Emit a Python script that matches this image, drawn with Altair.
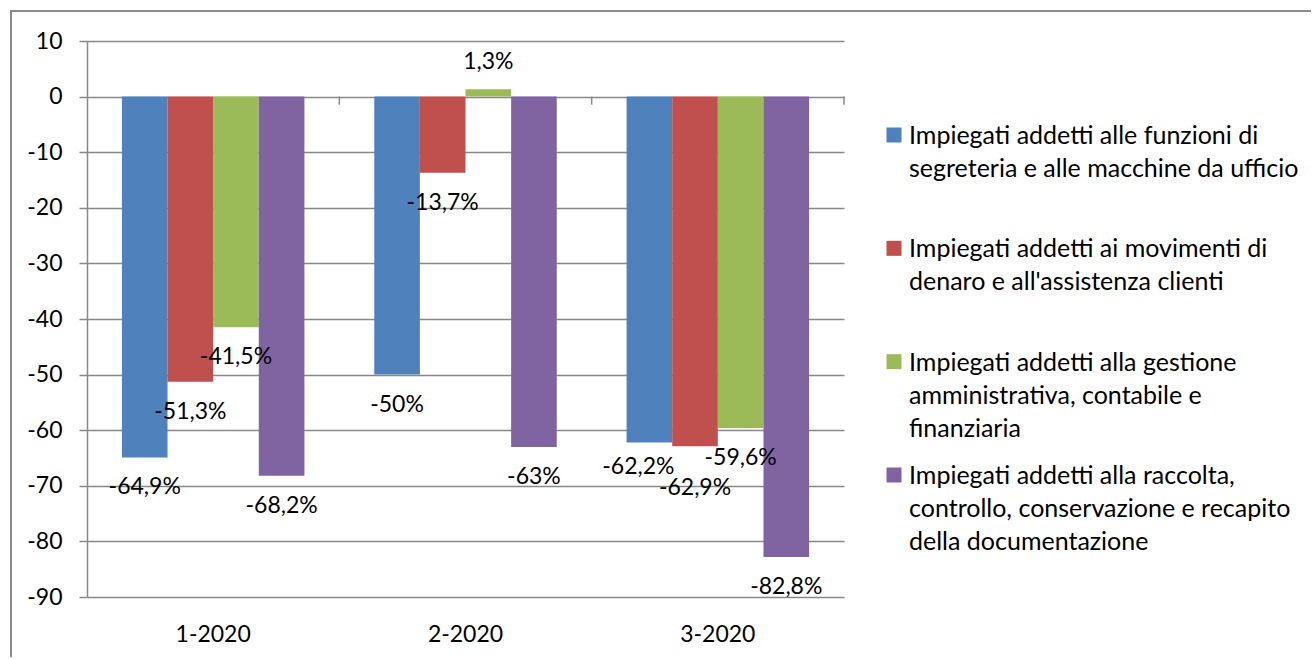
import altair as alt
import pandas as pd

# Quarters on the category axis
periods = ["1-2020", "2-2020", "3-2020"]

# Occupational groups (series)
series = [
    "Impiegati addetti alle funzioni di segreteria e alle macchine da ufficio",
    "Impiegati addetti ai movimenti di denaro e all'assistenza clienti",
    "Impiegati addetti alla gestione amministrativa, contabile e finanziaria",
    "Impiegati addetti alla raccolta, controllo, conservazione e recapito della documentazione",
]

# Wrapped legend labels, one per series
legend_labels = [
    "Impiegati addetti alle funzioni di\nsegreteria e alle macchine da ufficio",
    "Impiegati addetti ai movimenti di\ndenaro e all'assistenza clienti",
    "Impiegati addetti alla gestione\namministrativa, contabile e\nfinanziaria",
    "Impiegati addetti alla raccolta,\ncontrollo, conservazione e recapito\ndella documentazione",
]

# Percentage change per series, one value per quarter
segreteria = [-64.9, -50.0, -62.2]
denaro = [-51.3, -13.7, -62.9]
amministrativa = [-41.5, 1.3, -59.6]
documentazione = [-68.2, -63.0, -82.8]

colors = ["#4F81BD", "#C0504D", "#9BBB59", "#8064A2"]
y_ticks = list(range(-90, 11, 10))

FONT = "Lato"
FS = 23
LEG_FS = 25
GRID = "#888888"

rows = []
for name, vals in zip(series, [segreteria, denaro, amministrativa, documentazione]):
    for p, v in zip(periods, vals):
        rows.append({"periodo": p, "serie": name, "valore": v})
df = pd.DataFrame(rows)

x_enc = alt.X(
    "periodo:N",
    sort=periods,
    scale=alt.Scale(paddingInner=0, paddingOuter=0),
    axis=alt.Axis(
        title=None, labelAngle=0, ticks=False, domain=False, grid=False,
        labelPadding=26, labelFont=FONT, labelFontSize=FS, labelColor="black",
    ),
)
xoff_enc = alt.XOffset(
    "serie:N", sort=series, scale=alt.Scale(paddingInner=0, paddingOuter=0.765)
)
y_scale = alt.Scale(domain=[-90, 10], nice=False)

base = alt.Chart(df)

bars = base.mark_bar().encode(
    x=x_enc,
    xOffset=xoff_enc,
    y=alt.Y(
        "valore:Q",
        scale=y_scale,
        axis=alt.Axis(
            title=None, values=y_ticks, grid=True, gridColor=GRID, gridWidth=1.5,
            domainColor=GRID, domainWidth=1.5, tickColor=GRID, tickWidth=1.5,
            tickSize=8, labelPadding=17, labelFont=FONT, labelFontSize=FS,
            labelColor="black",
        ),
    ),
    color=alt.Color("serie:N", scale=alt.Scale(domain=series, range=colors), legend=None),
)

# Small category tick marks hanging from the zero line
cat_ticks = alt.Chart(pd.DataFrame({"periodo": periods})).mark_rule(
    color=GRID, strokeWidth=1.5
).encode(
    x=alt.X("periodo:N", sort=periods, bandPosition=1),
    y=alt.datum(0, scale=y_scale),
    y2=alt.datum(-1.45),
)

labels = base.transform_calculate(pct="datum.valore / 100")
text_kw = dict(font=FONT, fontSize=FS, color="black", baseline="middle", align="center")
text_enc = dict(x=x_enc, xOffset=xoff_enc, y=alt.Y("valore:Q", scale=y_scale),
                text=alt.Text("pct:Q", format=".1~%"))

is_q3_blue = f"datum.periodo == '3-2020' && datum.serie == '{series[0]}'"
is_q3_red = f"datum.periodo == \"3-2020\" && datum.serie == \"{series[1]}\""

lab_neg = labels.transform_filter(
    f"datum.valore < 0 && !({is_q3_blue}) && !({is_q3_red})"
).mark_text(dy=30, **text_kw).encode(**text_enc)
lab_pos = labels.transform_filter("datum.valore >= 0").mark_text(dy=-27, **text_kw).encode(**text_enc)
lab_q3_blue = labels.transform_filter(is_q3_blue).mark_text(dy=25, dx=-11, **text_kw).encode(**text_enc)
lab_q3_red = labels.transform_filter(is_q3_red).mark_text(dy=42, **text_kw).encode(**text_enc)

# Outer frame of the chart area (top and left edges)
frame_df = pd.DataFrame({"k": [0]})
frame_left = alt.Chart(frame_df).mark_rule(color="#8c8c8c", strokeWidth=2).encode(
    x=alt.value(-76), y=alt.value(-30), y2=alt.value(616)
)
frame_top = alt.Chart(frame_df).mark_rule(color="#8c8c8c", strokeWidth=2).encode(
    x=alt.value(-77), x2=alt.value(1224), y=alt.value(-30)
)

main = alt.layer(
    bars, cat_ticks, lab_neg, lab_pos, lab_q3_blue, lab_q3_red, frame_left, frame_top
).properties(width=757, height=556)

# Legend drawn as its own small view
leg_df = pd.DataFrame({"serie": series, "etichetta": legend_labels})
leg_y = alt.Y(
    "serie:N", sort=series,
    scale=alt.Scale(type="point", range=[94, 434], padding=0), axis=None,
)
leg_sym = alt.Chart(leg_df).mark_square(size=225, opacity=1).encode(
    x=alt.value(10),
    y=leg_y,
    color=alt.Color("serie:N", scale=alt.Scale(domain=series, range=colors), legend=None),
)
leg_txt = alt.Chart(leg_df).mark_text(
    font=FONT, fontSize=LEG_FS, color="black", align="left", baseline="alphabetic",
    dy=9, lineBreak="\n", lineHeight=33,
).encode(x=alt.value(25), y=leg_y, text="etichetta:N")
legend = alt.layer(leg_sym, leg_txt).properties(width=410, height=528)

chart = alt.hconcat(main, legend, spacing=40, bounds="flush").properties(
    padding={"left": 9, "top": 10, "right": 0, "bottom": 0}
).configure(
    font=FONT,
    locale={
        "number": {
            "decimal": ",",
            "thousands": ".",
            "grouping": [3],
            "currency": ["€", ""],
            "minus": "-",
        }
    },
).configure_view(stroke=None)

chart.save("out.html", embed_options={"renderer": "svg", "actions": False})
